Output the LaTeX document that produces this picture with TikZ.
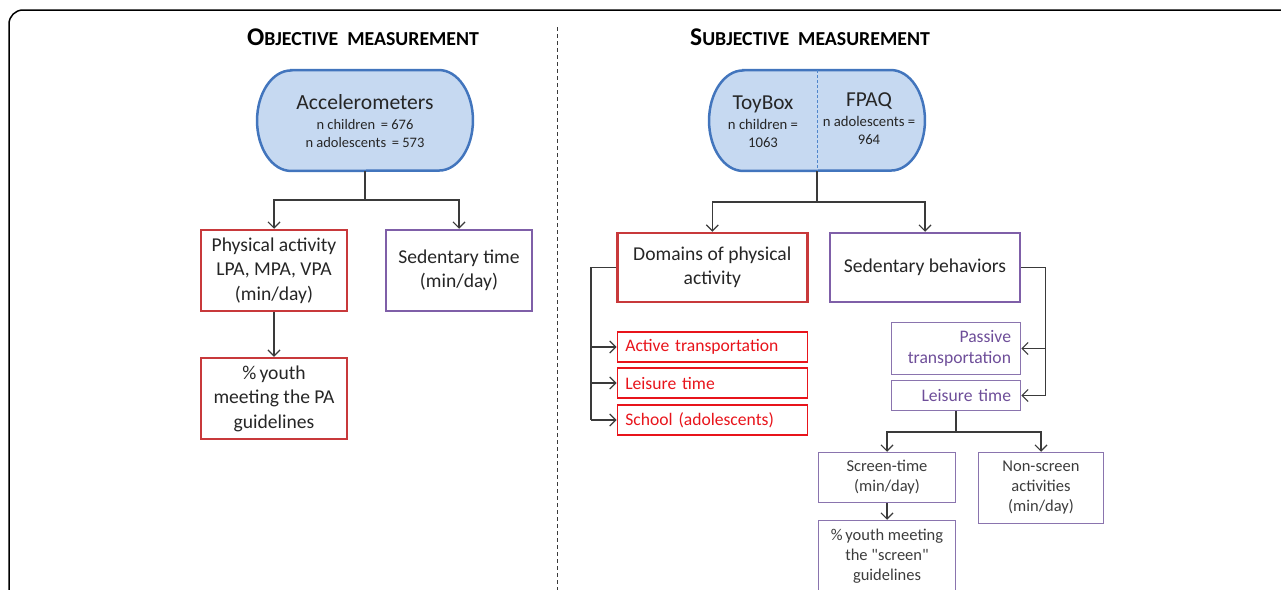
\documentclass[tikz,border=0pt]{standalone}
\usepackage{fontspec}
\setmainfont{Carlito}
\usetikzlibrary{arrows.meta,calc}
\definecolor{stadfill}{HTML}{C6D9F1}
\definecolor{staddraw}{HTML}{4275BD}
\definecolor{dividerblue}{HTML}{4F86CC}
\definecolor{boxred}{HTML}{C8393B}
\definecolor{boxpurple}{HTML}{7F5FA8}
\definecolor{brightred}{HTML}{E8141B}
\definecolor{lightpurple}{HTML}{8A74AE}
\definecolor{purpletext}{HTML}{6E4E99}
\definecolor{txtdark}{HTML}{262626}
\definecolor{linegray}{HTML}{3A3A3A}
\newcommand\headbig[1]{{\fontsize{25.5}{28}\selectfont #1}}
\tikzset{
  stadbox/.style={rectangle, minimum width=215.5pt, minimum height=100.5pt, inner sep=0pt},
  stadline/.style={draw=staddraw, fill=stadfill, line width=2.5pt},
  head/.style={font=\bfseries\fontsize{19.8}{22}\selectfont, text=black, inner sep=0pt},
  bigbox/.style={draw, line width=2.5pt, align=center, text=txtdark, font=\fontsize{19.6}{24.5}\selectfont, inner sep=0pt},
  redsmall/.style={draw=brightred, line width=1.5pt, text=brightred, font=\fontsize{17.6}{21}\selectfont, minimum width=190pt, minimum height=30pt, text width=174pt, inner xsep=8pt, inner ysep=0pt, align=left},
  purpsmall/.style={draw=lightpurple, line width=1.5pt, text=purpletext, font=\fontsize{17.6}{21}\selectfont, minimum width=128pt, text width=110pt, inner xsep=9.5pt, inner ysep=0pt, align=right},
  lowbox/.style={draw=lightpurple, line width=1.5pt, text=txtdark!90, font=\fontsize{16.5}{20}\selectfont, align=center, inner sep=0pt},
  stadtext/.style={text=txtdark, inner sep=0pt, anchor=base},
  ln/.style={draw=linegray, line width=1.2pt},
  arr/.style={draw=linegray, line width=1.2pt, -{Straight Barb[length=6pt,width=12pt,line width=1.2pt]}},
}
\begin{document}
\begin{tikzpicture}[x=1pt,y=-1pt]
\useasboundingbox (0,0) rectangle (1281,589);
\clip (0,0) rectangle (1281,589);
\draw[line width=1.5pt, rounded corners=14pt] (9,10) rectangle (1330,650);
\draw[draw=linegray, line width=1pt, dash pattern=on 4pt off 3pt] (557.5,27) -- (557.5,595);

% headings
\node[head] (objhead) at (363,37) {\headbig{O}BJECTIVE\ \ MEASUREMENT};
\node[head] (subhead) at (810,37) {\headbig{S}UBJECTIVE\ \ MEASUREMENT};

% objective side
\node[stadbox] (acc) at (365,120.5) {};
\draw[stadline] ($(acc.north west)+(34,0)$) -- ($(acc.north east)+(-34,0)$)
  arc[start angle=270, end angle=450, x radius=34, y radius=50.25]
  -- ($(acc.south west)+(34,0)$)
  arc[start angle=90, end angle=270, x radius=34, y radius=50.25] -- cycle;
\node[stadtext, font=\fontsize{21.6}{24}\selectfont] (acct) at (365,109) {Accelerometers};
\node[stadtext, font=\fontsize{14.5}{17}\selectfont] (accn1) at (365,129.3) {n children\ \,= 676};
\node[stadtext, font=\fontsize{14.5}{17}\selectfont] (accn2) at (365,147.3) {n adolescents\ \,= 573};

\node[bigbox, draw=boxred, minimum width=146pt, minimum height=81pt] (pa) at (274,270.5) {Physical activity\\LPA, MPA, VPA\\(min/day)};
\node[bigbox, draw=boxpurple, minimum width=146pt, minimum height=81pt] (sed) at (459,270.5) {Sedentary time\\(min/day)};
\node[bigbox, draw=boxred, minimum width=146pt, minimum height=81pt] (youth) at (274,398.5) {\%\,youth\\meeting the PA\\guidelines};

\coordinate (accsplit) at (365,200);
\draw[ln] (acc.south) -- (accsplit);
\draw[arr] (accsplit) -| (pa.north);
\draw[arr] (accsplit) -| (sed.north);
\draw[arr] (pa.south) -- (youth.north);

% subjective side
\node[stadbox] (sub) at (817,120.5) {};
\draw[stadline] ($(sub.north west)+(34,0)$) -- ($(sub.north east)+(-34,0)$)
  arc[start angle=270, end angle=450, x radius=34, y radius=50.25]
  -- ($(sub.south west)+(34,0)$)
  arc[start angle=90, end angle=270, x radius=34, y radius=50.25] -- cycle;
\draw[dividerblue, line width=0.8pt, dash pattern=on 3pt off 2pt] (sub.north) -- (sub.south);
\node[stadtext, font=\fontsize{21.3}{24}\selectfont] (toyt) at (763,109.3) {ToyBox};
\node[stadtext, font=\fontsize{14.7}{17}\selectfont] (toyn1) at (763,129.3) {n children =};
\node[stadtext, font=\fontsize{14.7}{17}\selectfont] (toyn2) at (763,147.3) {1063};
\node[stadtext, font=\fontsize{21.3}{24}\selectfont] (fpt) at (869,106) {FPAQ};
\node[stadtext, font=\fontsize{14.7}{17}\selectfont] (fpn1) at (869,126) {n adolescents =};
\node[stadtext, font=\fontsize{14.7}{17}\selectfont] (fpn2) at (869,144) {964};

\node[bigbox, draw=boxred, minimum width=190pt, minimum height=69pt] (dom) at (712.3,267.5) {Domains of physical\\activity};
\node[bigbox, draw=boxpurple, minimum width=190pt, minimum height=69pt] (sb) at (925,267.5) {Sedentary behaviors};

\coordinate (subsplit) at (817,202);
\draw[ln] (sub.south) -- (subsplit);
\draw[arr] (subsplit) -| (dom.north);
\draw[arr] (subsplit) -| (sb.north);

\node[redsmall] (act) at (712.3,347) {Active transportation};
\node[redsmall] (lei) at (712.3,383) {Leisure time};
\node[redsmall] (sch) at (712.3,420) {School (adolescents)};

\coordinate (dl) at ($(dom.west)+(-25,0)$);
\draw[ln] (dom.west) -- (dl) -- (dl |- sch.west);
\draw[arr] (dl |- act.west) -- (act.west);
\draw[arr] (dl |- lei.west) -- (lei.west);
\draw[arr] (dl |- sch.west) -- (sch.west);

\node[purpsmall, minimum height=52pt] (pas) at (956,348.5) {Passive\\transportation};
\node[purpsmall, minimum height=30pt] (lei2) at (956,395.5) {Leisure time};

\coordinate (dr) at ($(sb.east)+(24.6,0)$);
\draw[ln] (sb.east) -- (dr) -- (dr |- lei2.east);
\draw[arr] (dr |- pas.east) -- (pas.east);
\draw[arr] (dr |- lei2.east) -- (lei2.east);

\node[lowbox, minimum width=137pt, minimum height=50pt] (scr) at (887,477.5) {Screen-time\\(min/day)};
\node[lowbox, minimum width=125pt, minimum height=71pt] (nons) at (1041,488) {Non-screen\\activities\\(min/day)};
\node[lowbox, minimum width=137pt, minimum height=71pt] (ysc) at (887,556) {\%\,youth meeting\\the \textquotedbl screen\textquotedbl\\guidelines};

\coordinate (lsplit) at (956,432);
\draw[ln] (lei2.south) -- (lsplit);
\draw[arr] (lsplit) -| (scr.north);
\draw[arr] (lsplit) -| (nons.north);
\draw[arr] (scr.south) -- (ysc.north);
\end{tikzpicture}
\end{document}
